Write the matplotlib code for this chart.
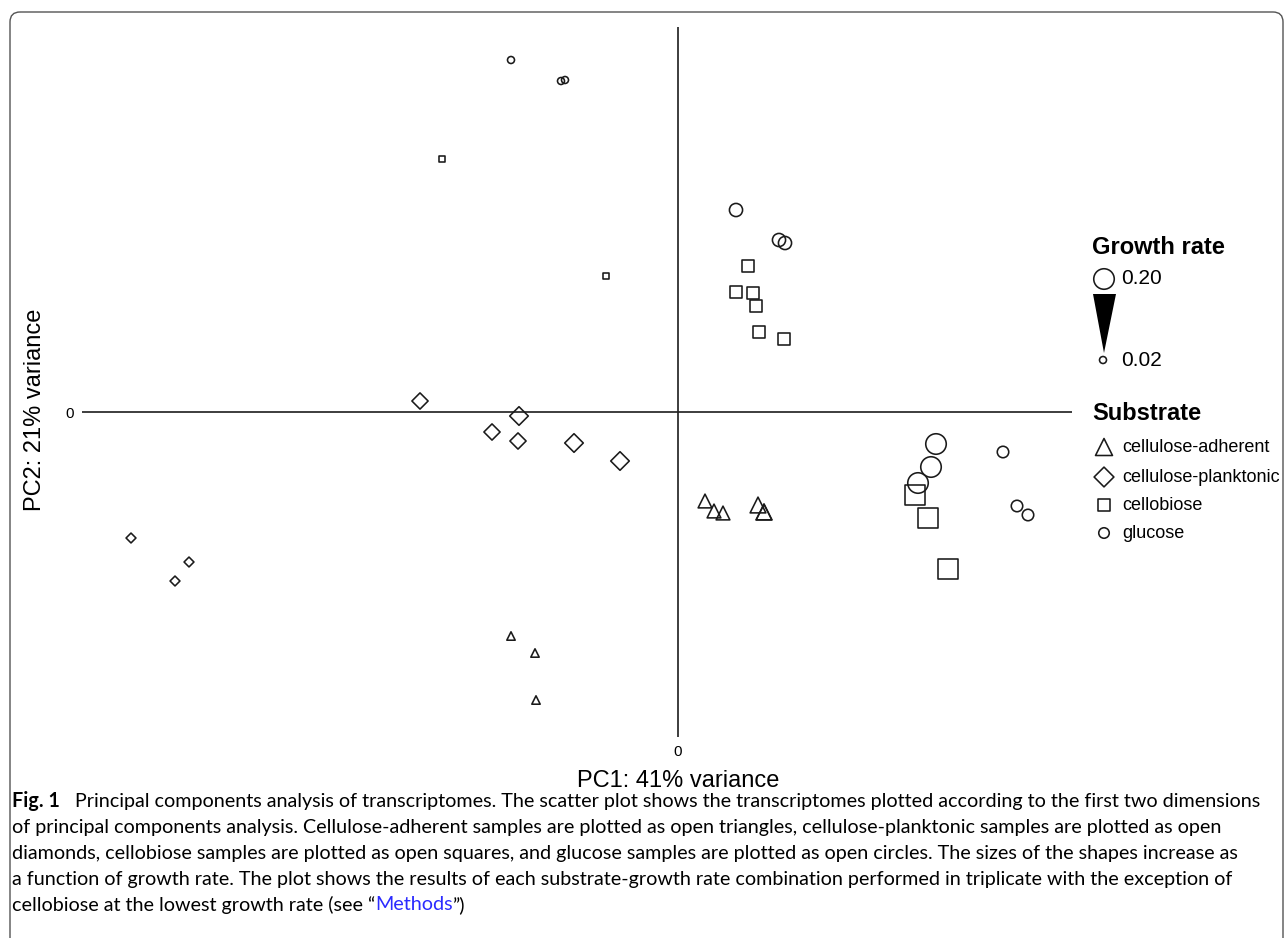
import matplotlib
matplotlib.use("Agg")
import matplotlib.pyplot as plt
from matplotlib.patches import FancyBboxPatch, Polygon
import numpy as np

plt.rcParams['font.family'] = ['Liberation Sans', 'DejaVu Sans']

# PCA scores (arbitrary units) and growth rate (1/h) of each sample, by substrate
adh_pc1 = [-16.7, -14.3, -14.2, 2.7, 3.6, 4.5, 8.0, 8.6, 8.6]
adh_pc2 = [-22.4, -24.1, -28.8, -8.9, -9.9, -10.1, -9.3, -10.0, -10.0]
adh_rate = [0.02, 0.02, 0.02, 0.06, 0.06, 0.06, 0.08, 0.08, 0.08]

pl_pc1 = [-54.7, -48.9, -50.3, -25.8, -18.6, -16.0, -15.9, -10.4, -5.8]
pl_pc2 = [-12.6, -15.0, -16.9, 1.1, -2.0, -2.9, -0.4, -3.1, -4.9]
pl_rate = [0.02, 0.02, 0.02, 0.06, 0.06, 0.06, 0.08, 0.08, 0.08]

cb_pc1 = [-23.6, -7.2, 7.0, 8.1, 10.6, 5.8, 7.5, 7.8, 23.7, 25.0, 27.0]
cb_pc2 = [25.3, 13.6, 14.6, 8.0, 7.3, 12.0, 11.9, 10.6, -8.3, -10.6, -15.7]
cb_rate = [0.02, 0.02, 0.06, 0.06, 0.06, 0.08, 0.08, 0.08, 0.20, 0.20, 0.20]

gl_pc1 = [-16.7, -11.7, -11.3, 32.5, 33.9, 35.0, 5.8, 10.1, 10.7, 25.8, 25.3, 24.0]
gl_pc2 = [35.2, 33.1, 33.2, -4.0, -9.4, -10.3, 20.2, 17.2, 16.9, -3.2, -5.5, -7.1]
gl_rate = [0.02, 0.02, 0.02, 0.06, 0.06, 0.06, 0.08, 0.08, 0.08, 0.20, 0.20, 0.20]

substrates = ['cellulose-adherent', 'cellulose-planktonic', 'cellobiose', 'glucose']
rate_labels = ['0.20', '0.02']

caption_lines = [
    "Principal components analysis of transcriptomes. The scatter plot shows the transcriptomes plotted according to the first two dimensions",
    "of principal components analysis. Cellulose-adherent samples are plotted as open triangles, cellulose-planktonic samples are plotted as open",
    "diamonds, cellobiose samples are plotted as open squares, and glucose samples are plotted as open circles. The sizes of the shapes increase as",
    "a function of growth rate. The plot shows the results of each substrate-growth rate combination performed in triplicate with the exception of",
    "cellobiose at the lowest growth rate (see \u201c",
]

W, H, DPI = 1287, 938, 100
fig = plt.figure(figsize=(W / DPI, H / DPI), dpi=DPI)
PX = 72.0 / DPI  # points per pixel


def diam(rate):
    # marker diameter in pixels, area grows with growth rate
    rate = np.asarray(rate, dtype=float)
    d0, d1 = 7.0, 20.5
    return np.sqrt(d0 ** 2 + (rate - 0.02) / 0.18 * (d1 ** 2 - d0 ** 2))


def area(d_px):
    return (d_px * PX) ** 2


ink = '#1a1a1a'
lw_mark = 1.6 * PX
ax = fig.add_axes([82 / W, 1 - 737 / H, 990 / W, 710 / H])
ax.set_xlim(-59.6, 39.4)
ax.set_ylim(-32.5, 38.5)
ax.axhline(0, color='#222222', lw=1.7 * PX, zorder=1)
ax.axvline(0, color='#222222', lw=1.7 * PX, zorder=1)

kw = dict(facecolors='none', edgecolors=ink, linewidths=lw_mark, zorder=3)
ax.scatter(adh_pc1, adh_pc2, s=area(diam(adh_rate) * 1.2), marker='^', **kw)
ax.scatter(pl_pc1, pl_pc2, s=area(diam(pl_rate) * 1.0), marker='D', **kw)
ax.scatter(cb_pc1, cb_pc2, s=area(diam(cb_rate) * 0.97), marker='s', **kw)
ax.scatter(gl_pc1, gl_pc2, s=area(diam(gl_rate)), marker='o', **kw)

ax.set_xticks([0])
ax.set_yticks([0])
ax.tick_params(length=0, labelsize=11, pad=6)
for sp in ax.spines.values():
    sp.set_visible(False)

fig.text(35 / W, 1 - 410 / H, 'PC2: 21% variance', rotation=90, ha='center', va='center', fontsize=17)
fig.text(678 / W, 1 - 781 / H, 'PC1: 41% variance', ha='center', va='center', fontsize=17)

# overlay in pixel units for the legend, frame and caption
lax = fig.add_axes([0, 0, 1, 1], zorder=5)
lax.set_xlim(0, W)
lax.set_ylim(H, 0)
lax.axis('off')

frame = FancyBboxPatch((10, 12), 1273, 1000, boxstyle='round,pad=0,rounding_size=10',
                       fc='none', ec='#555555', lw=1.4 * PX)
lax.add_patch(frame)

# growth rate legend
lax.text(1092, 247, 'Growth rate', fontsize=17, fontweight='bold', va='center', ha='left')
lax.scatter([1104], [279], s=area(diam(0.20)), marker='o', facecolors='none', edgecolors=ink, linewidths=lw_mark)
lax.text(1121, 279, rate_labels[0], fontsize=15, va='center', ha='left')
lax.add_patch(Polygon([[1093, 294], [1116, 294], [1104, 353]], closed=True, fc='black', ec='none'))
lax.scatter([1103], [360], s=area(diam(0.02)), marker='o', facecolors='none', edgecolors=ink, linewidths=lw_mark)
lax.text(1121, 360, rate_labels[1], fontsize=15, va='center', ha='left')

# substrate legend
lax.text(1092, 414, 'Substrate', fontsize=17, fontweight='bold', va='center', ha='left')
leg_marks = [('^', 17), ('D', 14), ('s', 12), ('o', 10.5)]
leg_y = [447, 477, 505, 533]
for (m, d), yy, lab in zip(leg_marks, leg_y, substrates):
    lax.scatter([1104], [yy], s=area(d), marker=m, facecolors='none', edgecolors=ink, linewidths=lw_mark)
    lax.text(1122, yy, lab, fontsize=13, va='center', ha='left')

# caption
cap_font = ['Liberation Sans Narrow', 'Lato', 'DejaVu Sans']
renderer = fig.canvas.get_renderer()
x0, x_end = 12, 1266
line_y = [801, 827, 853, 879, 905]

probe = lax.text(0, 0, 'Fig. 1', fontsize=14, fontweight='bold', family=cap_font)
probe2 = lax.text(0, 0, caption_lines[0], fontsize=14, family=cap_font)
w_fig = probe.get_window_extent(renderer).width
w_body = probe2.get_window_extent(renderer).width
probe.remove()
probe2.remove()
gap = 14 * 0.75 / PX
fs = 14 * (x_end - x0) / (w_fig + gap + w_body)
body_x = x0 + (w_fig + gap) * fs / 14

lax.text(x0, line_y[0], 'Fig. 1', fontsize=fs, fontweight='bold', family=cap_font, va='center', ha='left')
lax.text(body_x, line_y[0], caption_lines[0], fontsize=fs, family=cap_font, va='center', ha='left')
for yy, line in zip(line_y[1:4], caption_lines[1:4]):
    lax.text(x0, yy, line, fontsize=fs, family=cap_font, va='center', ha='left')

t1 = lax.text(x0, line_y[4], caption_lines[4], fontsize=fs, family=cap_font, va='center', ha='left')
x = x0 + t1.get_window_extent(renderer).width
t2 = lax.text(x, line_y[4], 'Methods', fontsize=fs, family=cap_font, va='center', ha='left', color='#2b2bff')
x += t2.get_window_extent(renderer).width
lax.text(x, line_y[4], '\u201d)', fontsize=fs, family=cap_font, va='center', ha='left')

fig.savefig('out.png', dpi=DPI)
